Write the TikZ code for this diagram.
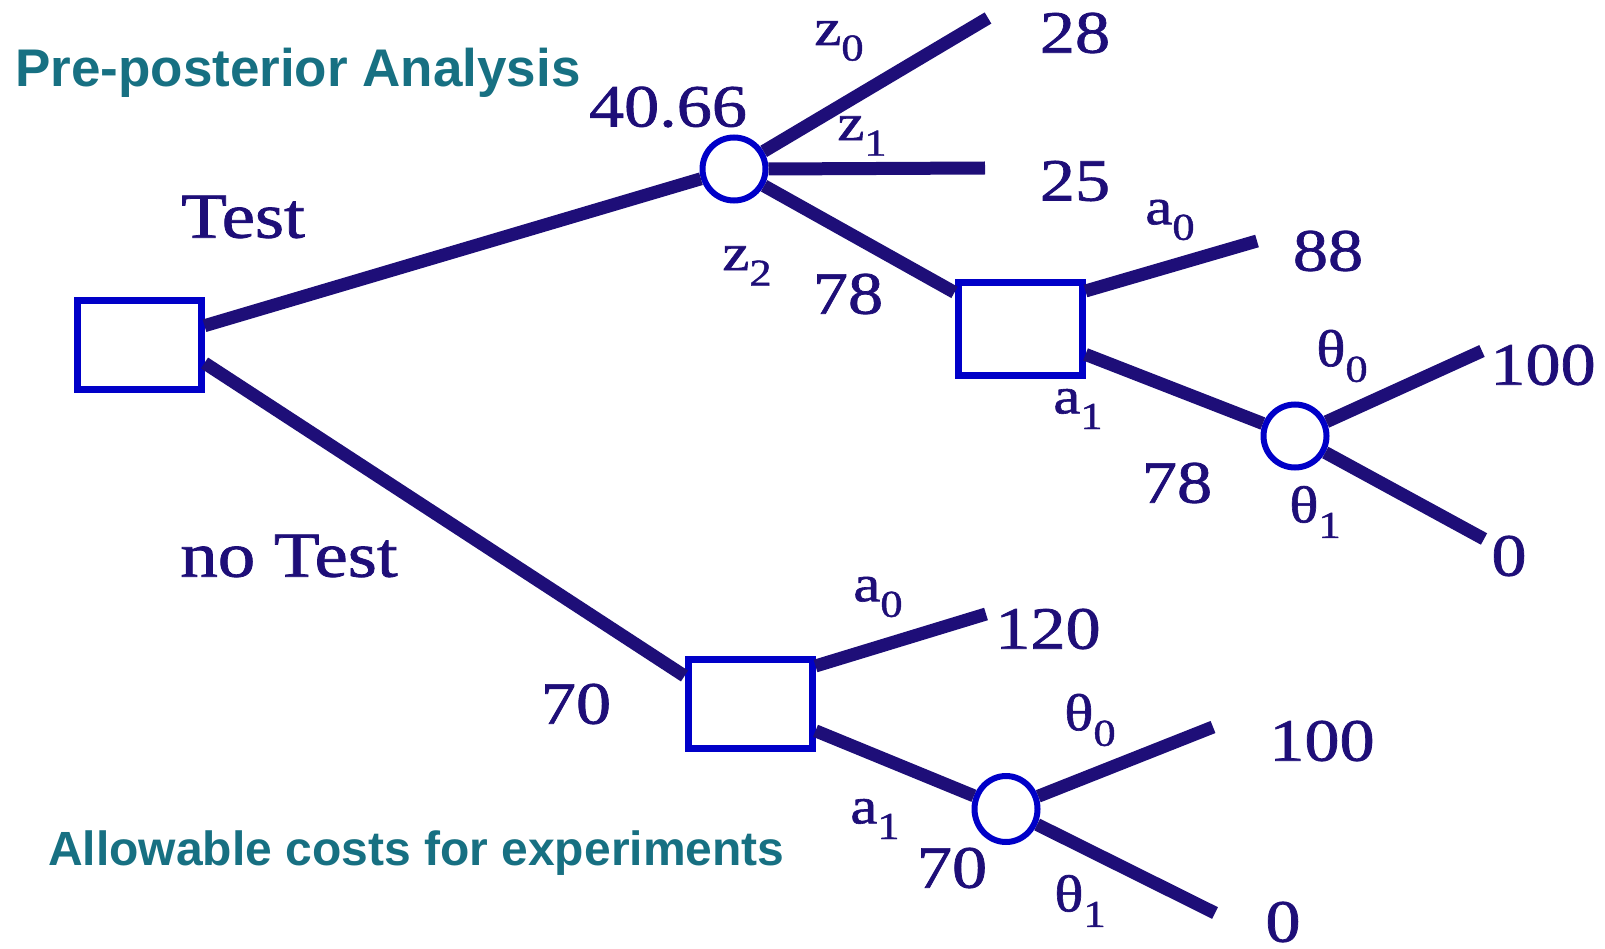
\documentclass[tikz,border=0pt]{standalone}
\usepackage{fontspec}
\usetikzlibrary{shapes.geometric}
\setmainfont{Liberation Serif}
\newfontfamily\treefont{Liberation Serif}[FakeStretch=1.17,FakeBold=1.2]
\newfontfamily\headfont{Liberation Sans}
\definecolor{navy}{RGB}{30,14,120}
\definecolor{boxblue}{RGB}{0,0,200}
\definecolor{headteal}{RGB}{23,112,130}
\newcommand\sbs[1]{\raisebox{-0.3em}{\fontsize{38}{38}\selectfont #1}}
\tikzset{
  decision/.style={draw=boxblue, line width=7pt, fill=white, minimum width=124pt, minimum height=89pt, inner sep=0pt},
  chance/.style={draw=boxblue, line width=6pt, fill=white, circle, minimum size=63pt, inner sep=0pt},
  branch/.style={draw=navy, line width=13pt},
  numlbl/.style={text=navy, inner sep=0pt, font=\treefont\fontsize{60}{62}\selectfont},
  biglbl/.style={text=navy, inner sep=0pt, font=\treefont\fontsize{64}{66}\selectfont},
  sublbl/.style={text=navy, inner sep=0pt, font=\treefont\fontsize{52}{54}\selectfont},
  head/.style={text=headteal, inner sep=0pt, anchor=base west}
}
\begin{document}
\begin{tikzpicture}[x=1pt,y=-1pt]
\useasboundingbox (0,0) rectangle (1605,949);
% nodes
\node[decision] (root) at (139,345) {};
\node[chance] (c1) at (734,169) {};
\node[decision, minimum height=93pt] (sq2) at (1020,329) {};
\node[chance] (c2) at (1295,436) {};
\node[decision] (sq3) at (750,704) {};
\node[draw=boxblue, line width=6pt, fill=white, ellipse, minimum width=63pt, minimum height=66pt, inner sep=0pt] (c3) at (1006,809) {};
% free ends
\coordinate (e28) at (988,18);
\coordinate (e25) at (985,168);
\coordinate (e88) at (1257,241);
\coordinate (e100a) at (1482,351);
\coordinate (e0a) at (1484,539);
\coordinate (e120) at (986,614);
\coordinate (e100b) at (1213,727);
\coordinate (e0b) at (1215,913);
% branches
\draw[branch] (root) -- (c1);
\draw[branch] ([yshift=-18pt]root.east) -- ([yshift=28pt]sq3.west);
\draw[branch] (c1) -- (e28);
\draw[branch] (c1.east) -- (e25);
\draw[branch] (c1) -- (sq2);
\draw[branch] ([yshift=38pt]sq2.east) -- (e88);
\draw[branch] (sq2) -- (c2);
\draw[branch] (c2) -- (e100a);
\draw[branch] (c2) -- (e0a);
\draw[branch] ([yshift=38pt]sq3.east) -- (e120);
\draw[branch] (sq3) -- (c3);
\draw[branch] (c3) -- (e100b);
\draw[branch] (c3) -- (e0b);
% headings
\node[head, font=\headfont\bfseries\fontsize{53}{56}\selectfont] (h1) at (15,87) {Pre-posterior Analysis};
\node[head, font=\headfont\bfseries\fontsize{48}{52}\selectfont] (h2) at (48,865) {Allowable costs for experiments};
% labels
\node[biglbl] (lTest) at (243,217) {Test};
\node[biglbl] (lnoTest) at (289,556) {no Test};
\node[numlbl] (l4066) at (668,107) {40.66};
\node[numlbl] (l28) at (1075,33) {28};
\node[numlbl] (l25) at (1075,181) {25};
\node[numlbl] (l88) at (1328,251) {88};
\node[numlbl] (l100a) at (1543,365) {100};
\node[numlbl] (l0a) at (1509,556) {0};
\node[numlbl] (l78a) at (848,294) {78};
\node[numlbl] (l78b) at (1177,483) {78};
\node[numlbl] (l70a) at (576,704) {70};
\node[numlbl] (l70b) at (952,868) {70};
\node[numlbl] (l120) at (1048,629) {120};
\node[numlbl] (l100b) at (1322,741) {100};
\node[numlbl] (l0b) at (1283,922) {0};
\node[sublbl] (lz0) at (839,41) {z\sbs{0}};
\node[sublbl] (lz1) at (862,136) {z\sbs{1}};
\node[sublbl] (lz2) at (747,266) {z\sbs{2}};
\node[sublbl] (la0u) at (1170,220) {a\sbs{0}};
\node[sublbl] (la1u) at (1078,409) {a\sbs{1}};
\node[sublbl] (lt0u) at (1342,356) {θ\sbs{0}};
\node[sublbl] (lt1u) at (1315,512) {θ\sbs{1}};
\node[sublbl] (la0l) at (878,597) {a\sbs{0}};
\node[sublbl] (la1l) at (875,819) {a\sbs{1}};
\node[sublbl] (lt0l) at (1090,720) {θ\sbs{0}};
\node[sublbl] (lt1l) at (1080,901) {θ\sbs{1}};
\end{tikzpicture}
\end{document}
